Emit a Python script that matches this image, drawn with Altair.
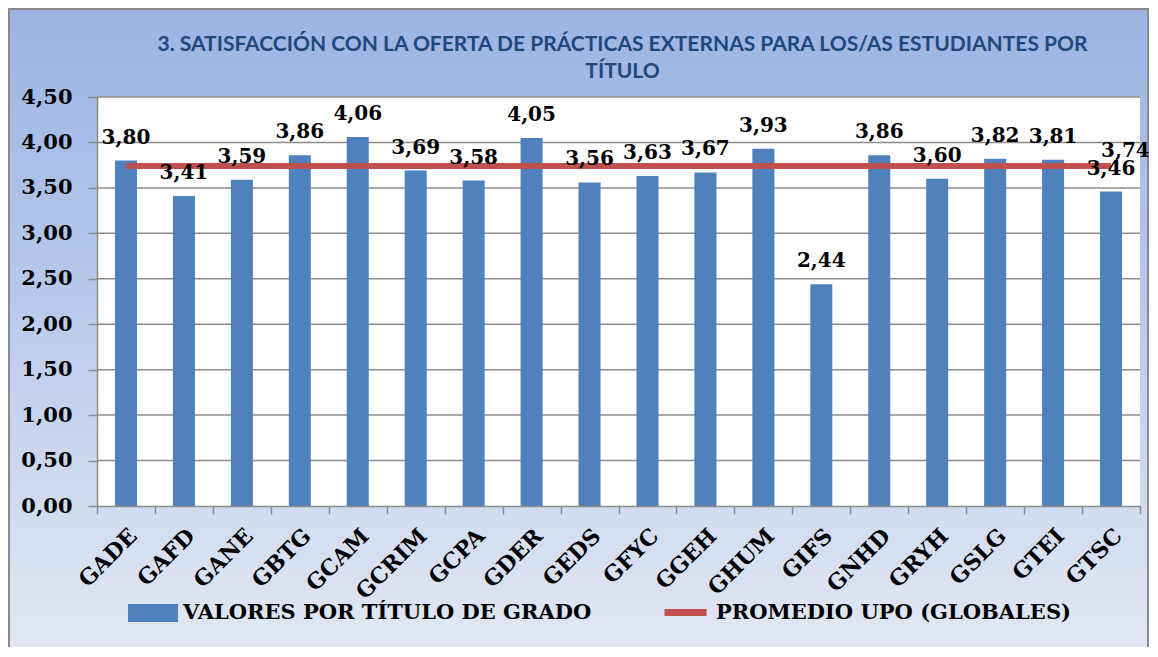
import altair as alt
import pandas as pd

categories = ["GADE", "GAFD", "GANE", "GBTG", "GCAM", "GCRIM", "GCPA", "GDER", "GEDS",
              "GFYC", "GGEH", "GHUM", "GIFS", "GNHD", "GRYH", "GSLG", "GTEI", "GTSC"]
values = [3.80, 3.41, 3.59, 3.86, 4.06, 3.69, 3.58, 4.05, 3.56,
          3.63, 3.67, 3.93, 2.44, 3.86, 3.60, 3.82, 3.81, 3.46]
average = 3.74
y_ticks = [0.0, 0.5, 1.0, 1.5, 2.0, 2.5, 3.0, 3.5, 4.0, 4.5]
series_bar = "VALORES POR TÍTULO DE GRADO"
series_line = "PROMEDIO UPO (GLOBALES)"
title_text = ("3. SATISFACCIÓN CON LA OFERTA DE PRÁCTICAS EXTERNAS PARA LOS/AS ESTUDIANTES POR\n"
              "TÍTULO")

W, H = 1043, 409
PL, PT, PR, PB = 89, 89, 9, 141
SERIF = "DejaVu Serif"
BAR_C = "#4F81BD"
LINE_C = "#C0504D"
GRID_C = "#8C8C8C"

bars_df = pd.DataFrame({"cat": categories, "v": values, "serie": series_bar})
line_df = pd.DataFrame({"cat": categories, "v": [average] * len(categories), "serie": series_line})
grid_df = pd.DataFrame({"v": y_ticks[1:]})
one = pd.DataFrame({"t": [title_text]})
last_df = pd.DataFrame({"cat": [categories[-1]], "v": [average]})

fmt = "replace(format(datum.v, '.2f'), '.', ',')"

xscale = alt.Scale(domain=categories, paddingInner=0, paddingOuter=0)
yscale = alt.Scale(domain=[0, 4.5], nice=False)

x_axis = alt.Axis(labelAngle=-45, labelAlign="right", labelBaseline="middle",
                  labelFont=SERIF, labelFontSize=22, labelFontWeight="bold",
                  labelColor="black", labelPadding=18, labelOffset=7, tickBand="extent",
                  tickColor=GRID_C, tickSize=8, tickWidth=1.5,
                  domainColor=GRID_C, domainWidth=1.5, zindex=1, title=None)
y_axis = alt.Axis(values=y_ticks, labelExpr="replace(format(datum.value, '.2f'), '.', ',')",
                  labelFont=SERIF, labelFontSize=21, labelFontWeight="bold",
                  labelColor="black", labelPadding=16, grid=False,
                  tickColor=GRID_C, tickSize=9, tickWidth=1.5,
                  domainColor=GRID_C, domainWidth=1.5, zindex=1, title=None)

X = alt.X("cat:N", sort=categories, scale=xscale, axis=x_axis)
Y = alt.Y("v:Q", scale=yscale, axis=y_axis)

gradient = alt.LinearGradient(
    gradient="linear",
    stops=[alt.GradientStop(offset=0, color="#9BB4E2"),
           alt.GradientStop(offset=0.45, color="#B7C9EB"),
           alt.GradientStop(offset=1, color="#E2E8F4")],
    x1=0, x2=0, y1=0, y2=1)

bg = alt.Chart(one).mark_rect(fill=gradient, stroke="#8A8A8A", strokeWidth=2).encode(
    x=alt.value(-PL + 1), x2=alt.value(W + PR - 1),
    y=alt.value(-PT + 1), y2=alt.value(H + PB + 2))

plot_bg = alt.Chart(one).mark_rect(fill="white").encode(
    x=alt.value(0), x2=alt.value(W), y=alt.value(0), y2=alt.value(H))

title = alt.Chart(one).mark_text(
    font="Lato", fontSize=21, fontWeight="bold", color="#1F497D",
    lineBreak="\n", lineHeight=27, baseline="middle", align="center"
).encode(x=alt.value(W / 2 + 4), y=alt.value(-52), text="t:N")

grid = alt.Chart(grid_df).mark_rule(color=GRID_C, strokeWidth=1.5).encode(
    y=Y, x=alt.value(0), x2=alt.value(W))

bars = alt.Chart(bars_df).mark_bar(width=alt.RelativeBandSize(0.38)).encode(
    x=X, y=Y,
    fill=alt.Fill("serie:N", scale=alt.Scale(domain=[series_bar], range=[BAR_C]),
                  legend=alt.Legend(orient="none", legendX=31, legendY=491, title=None,
                                    symbolType="M-1,-0.36H1V0.36H-1Z", symbolSize=2500,
                                    symbolStrokeWidth=0, labelFont=SERIF, labelFontSize=21,
                                    labelFontWeight="bold", labelColor="black",
                                    labelOffset=5, labelLimit=0, padding=0)))

bar_labels = alt.Chart(bars_df).transform_calculate(lab=fmt).mark_text(
    dy=-17, baseline="alphabetic", font=SERIF, fontSize=20, fontWeight="bold", color="black"
).encode(x=X, y=Y, text="lab:N")

line = alt.Chart(line_df).mark_line(strokeWidth=6).encode(
    x=X, y=Y,
    stroke=alt.Stroke("serie:N", scale=alt.Scale(domain=[series_line], range=[LINE_C]),
                      legend=alt.Legend(orient="none", legendX=564, legendY=491, title=None,
                                        symbolType="stroke", symbolSize=1764,
                                        symbolStrokeWidth=7, labelFont=SERIF, labelFontSize=21,
                                        labelFontWeight="bold", labelColor="black",
                                        labelOffset=6, labelLimit=0, padding=0)))

line_label = alt.Chart(last_df).transform_calculate(lab=fmt).mark_text(
    align="left", dx=-10, dy=-9, baseline="alphabetic", font=SERIF, fontSize=20,
    fontWeight="bold", color="black"
).encode(x=X, y=Y, text="lab:N")

chart = alt.layer(bg, plot_bg, title, grid, bars, line, bar_labels, line_label).properties(
    width=W, height=H,
    padding={"left": PL, "top": PT, "right": PR, "bottom": PB},
    autosize=alt.AutoSizeParams(type="none"),
).configure_view(stroke=None).configure(background="white")

chart.save("out.html", embed_options={"renderer": "svg", "actions": False})
